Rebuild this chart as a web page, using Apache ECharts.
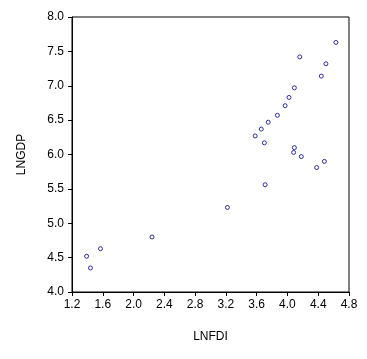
<!DOCTYPE html>
<html><head><meta charset="utf-8">
<script src="https://cdn.jsdelivr.net/npm/echarts@6/dist/echarts.min.js"></script>
<style>html,body{margin:0;padding:0;background:#fff}#c{width:367px;height:359px}</style>
</head><body><div id="c"></div>
<script>
const lnfdi = [4.63,4.16,4.50,4.44,4.09,4.02,3.97,3.87,3.75,3.66,3.58,3.70,4.09,4.08,4.18,4.48,4.38,3.71,3.22,2.24,1.57,1.39,1.44];
const lngdp = [7.63,7.42,7.32,7.14,6.97,6.83,6.71,6.57,6.47,6.37,6.27,6.17,6.10,6.03,5.97,5.90,5.81,5.56,5.23,4.80,4.63,4.52,4.35];
const points = lnfdi.map((x,i)=>[x,lngdp[i]]);
const chart = echarts.init(document.getElementById('c'));
const font = 'Liberation Sans, Arial, sans-serif';
chart.setOption({
  animation:false,
  grid:{left:72,right:18,top:17,bottom:67,show:true,borderColor:'#000',borderWidth:1,backgroundColor:'transparent'},
  xAxis:{type:'value',min:1.2,max:4.8,interval:0.4,name:'LNFDI',nameLocation:'middle',nameGap:39,
    nameTextStyle:{fontFamily:font,fontSize:12,color:'#000'},
    axisLine:{show:true,onZero:false,lineStyle:{color:'#000'}},
    axisTick:{show:true,length:4,lineStyle:{color:'#000'}},
    axisLabel:{fontFamily:font,fontSize:12,color:'#000',margin:7,formatter:v=>v.toFixed(1)},
    splitLine:{show:false}},
  yAxis:{type:'value',min:4.0,max:8.0,interval:0.5,name:'LNGDP',nameLocation:'middle',nameGap:44,
    nameTextStyle:{fontFamily:font,fontSize:12,color:'#000'},
    axisLine:{show:true,onZero:false,lineStyle:{color:'#000'}},
    axisTick:{show:true,length:4,lineStyle:{color:'#000'}},
    axisLabel:{fontFamily:font,fontSize:12,color:'#000',margin:8,formatter:v=>v.toFixed(1)},
    splitLine:{show:false}},
  series:[{type:'scatter',data:points,symbol:'circle',symbolSize:4,
    itemStyle:{color:'#fff',borderColor:'#00008b',borderWidth:1}}]
});
</script></body></html>
